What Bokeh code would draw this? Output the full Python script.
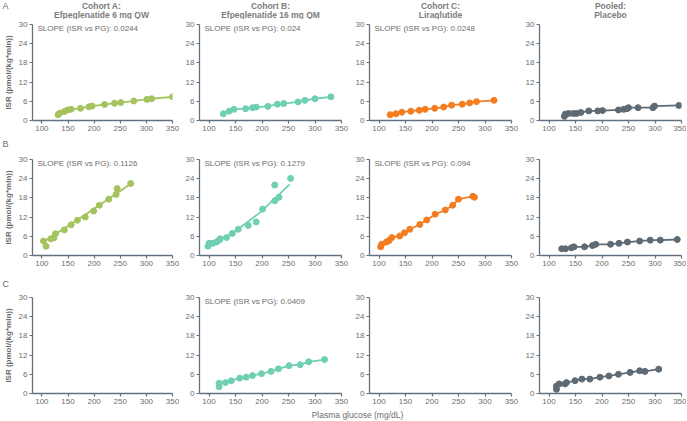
from bokeh.plotting import figure
from bokeh.models import Range1d, FixedTicker, Label
from bokeh.layouts import column, row
from bokeh.embed import file_html
from bokeh.resources import INLINE

FONT = "Liberation Sans"

# ---------------- data ----------------
col_titles_1 = ["Cohort A:", "Cohort B:", "Cohort C:", "Pooled:"]
col_titles_2 = ["Efpeglenatide 6 mg QW", "Efpeglenatide 16 mg QM", "Liraglutide", "Placebo"]
row_letters = ["A", "B", "C"]
x_ticks = [100, 150, 200, 250, 300, 350]
y_ticks = [0, 6, 12, 18, 24, 30]
colors = ["#a4c35f", "#6fcfb3", "#f47d21", "#5f6b74"]
y_label = "ISR (pmol/(kg*min))"
x_label = "Plasma glucose (mg/dL)"

# Row A
a1_x = [131, 134, 143, 149, 156, 174, 190, 196, 220, 239, 251, 276, 301, 310, 350]
a1_y = [1.8, 2.3, 2.8, 3.3, 3.5, 3.8, 4.3, 4.5, 5.0, 5.4, 5.6, 6.1, 6.6, 6.8, 7.4]
a2_x = [127, 138, 147, 169, 182, 189, 211, 229, 241, 268, 281, 300, 330]
a2_y = [2.1, 2.9, 3.5, 3.7, 4.0, 4.2, 4.4, 5.1, 5.3, 5.8, 6.3, 6.8, 7.4]
a3_x = [121, 132, 143, 160, 176, 187, 205, 222, 237, 257, 271, 284, 317]
a3_y = [1.8, 2.1, 2.6, 2.9, 3.2, 3.5, 3.8, 4.2, 4.8, 5.1, 5.5, 5.9, 6.3]
a4_x = [129, 131, 137, 146, 152, 160, 175, 192, 201, 231, 241, 247, 250, 268, 296, 299, 345]
a4_y = [1.3, 2.0, 2.2, 2.2, 2.2, 2.5, 3.0, 3.0, 3.1, 3.3, 3.5, 3.7, 4.0, 4.0, 4.0, 4.5, 4.7]

# Row B
b1_x = [103, 108, 117, 123, 126, 143, 156, 168, 183, 199, 210, 228, 242, 244, 270]
b1_y = [4.5, 2.9, 5.2, 5.5, 6.8, 8.0, 9.6, 11.0, 12.0, 13.9, 15.7, 17.6, 19.1, 20.9, 22.5]
b1_fit_x = [100, 150, 200, 245, 270]
b1_fit_y = [3.9, 9.2, 14.6, 19.6, 22.4]
b2_x = [98, 100, 107, 114, 119, 121, 133, 144, 155, 174, 189, 201, 224, 224, 232, 254]
b2_y = [2.9, 3.8, 3.8, 4.2, 4.8, 5.2, 5.6, 6.9, 8.2, 9.4, 10.5, 14.5, 17.1, 22.0, 18.2, 24.1]
b2_fit_x = [98, 144, 196, 224, 252]
b2_fit_y = [3.0, 6.9, 13.4, 17.8, 22.2]
b3_x = [103, 105, 114, 119, 124, 139, 148, 158, 177, 190, 206, 225, 239, 250, 277, 280]
b3_y = [2.7, 3.5, 4.2, 4.7, 5.6, 6.1, 7.1, 8.2, 9.7, 11.1, 12.9, 14.2, 15.7, 17.6, 18.5, 18.2]
b4_x = [124, 131, 142, 147, 167, 182, 188, 216, 232, 248, 271, 291, 310, 342]
b4_y = [2.1, 2.1, 2.4, 2.7, 2.7, 3.1, 3.5, 3.5, 3.8, 4.2, 4.5, 4.8, 4.8, 5.0]

# Row C
c2_x = [119, 119, 131, 142, 158, 170, 182, 199, 217, 231, 251, 272, 288, 318]
c2_y = [2.1, 3.2, 3.4, 4.0, 4.8, 5.1, 5.6, 6.2, 6.9, 7.7, 8.7, 9.0, 9.9, 10.6]
c4_x = [114, 114, 119, 130, 133, 149, 162, 177, 196, 213, 231, 253, 271, 281, 307]
c4_y = [1.3, 2.3, 3.0, 3.0, 3.4, 4.0, 4.5, 4.5, 5.1, 5.5, 6.0, 6.6, 7.1, 6.9, 7.6]

panels = {
    (0, 0): dict(x=a1_x, y=a1_y, fx=a1_x, fy=a1_y, slope="0.0244"),
    (0, 1): dict(x=a2_x, y=a2_y, fx=a2_x, fy=a2_y, slope="0.024"),
    (0, 2): dict(x=a3_x, y=a3_y, fx=a3_x, fy=a3_y, slope="0.0248"),
    (0, 3): dict(x=a4_x, y=a4_y, fx=a4_x, fy=a4_y, slope=None),
    (1, 0): dict(x=b1_x, y=b1_y, fx=b1_fit_x, fy=b1_fit_y, slope="0.1126"),
    (1, 1): dict(x=b2_x, y=b2_y, fx=b2_fit_x, fy=b2_fit_y, slope="0.1279"),
    (1, 2): dict(x=b3_x, y=b3_y, fx=b3_x, fy=b3_y, slope="0.094"),
    (1, 3): dict(x=b4_x, y=b4_y, fx=b4_x, fy=b4_y, slope=None),
    (2, 1): dict(x=c2_x, y=c2_y, fx=c2_x, fy=c2_y, slope="0.0409"),
    (2, 3): dict(x=c4_x, y=c4_y, fx=c4_x, fy=c4_y, slope=None),
}

# ---------------- layout ----------------
FRAME_W = 142
FRAME_H = 96
TITLE_H = 19
GAP_H = [18, 21]          # strips holding the letters B and C
XLAB_H = 12
ROW_TOP = 5
row_bottom = [16, 16, 15]
col_bl = [30, 20, 20, 20]
col_br = [7, 8, 8, 5]

AXIS_COL = "#63717f"
TICK_COL = "#6e6e6e"
TITLE_COL = "#7d7d7d"


def strip(w, h):
    f = figure(width=w, height=h, x_range=Range1d(0, w), y_range=Range1d(0, h),
               x_axis_type=None, y_axis_type=None, output_backend="svg",
               toolbar_location=None, min_border=0)
    f.outline_line_color = None
    f.background_fill_color = "white"
    f.border_fill_color = "white"
    return f


def letter(f, txt, from_top):
    f.add_layout(Label(x=2, y=f.height - from_top, x_units="screen", y_units="screen",
                       text=txt, text_font=FONT, text_font_size="9px", text_color=TICK_COL,
                       text_baseline="middle", text_align="left"))


col_w = [col_bl[c] + FRAME_W + col_br[c] for c in range(4)]
total_w = sum(col_w)

# title strip
ts = strip(total_w, TITLE_H)
letter(ts, row_letters[0], 5)
x0 = 0
for c in range(4):
    cx = x0 + col_bl[c] + FRAME_W / 2
    for txt, yy in ((col_titles_1[c], TITLE_H - 5), (col_titles_2[c], TITLE_H - 14)):
        ts.add_layout(Label(x=cx, y=yy, x_units="screen", y_units="screen", text=txt,
                            text_font=FONT, text_font_size="8.5px", text_font_style="bold",
                            text_color=TITLE_COL, text_baseline="middle", text_align="center"))
    x0 += col_w[c]

items = [ts]
for r in range(3):
    if r > 0:
        g = strip(total_w, GAP_H[r - 1])
        letter(g, row_letters[r], 7 if r == 1 else 12)
        items.append(g)
    h = ROW_TOP + FRAME_H + row_bottom[r]
    figs = []
    for c in range(4):
        p = figure(width=col_w[c], height=h,
                   x_range=Range1d(82, 350), y_range=Range1d(0, 30),
                   output_backend="svg", toolbar_location=None,
                   min_border_left=col_bl[c], min_border_right=col_br[c],
                   min_border_top=ROW_TOP, min_border_bottom=row_bottom[r])
        p.outline_line_color = None
        p.grid.visible = False
        p.background_fill_color = "white"
        p.border_fill_color = "white"
        p.xaxis.ticker = FixedTicker(ticks=x_ticks)
        p.yaxis.ticker = FixedTicker(ticks=y_ticks)
        for ax in (p.xaxis, p.yaxis):
            ax.axis_line_color = AXIS_COL
            ax.axis_line_width = 1.3
            ax.major_tick_line_color = AXIS_COL
            ax.major_tick_line_width = 1.2
            ax.major_tick_out = 3
            ax.major_tick_in = 0
            ax.minor_tick_line_color = None
            ax.major_label_text_font = FONT
            ax.major_label_text_font_size = "8px"
            ax.major_label_text_color = TICK_COL
            ax.major_label_standoff = 2
        if c == 0:
            p.yaxis.axis_label = y_label
            p.yaxis.axis_label_text_font = FONT
            p.yaxis.axis_label_text_font_size = "8px"
            p.yaxis.axis_label_text_font_style = "bold"
            p.yaxis.axis_label_text_color = "#6a6a6a"
            p.yaxis.axis_label_standoff = 3
        d = panels.get((r, c))
        if d is not None:
            col = colors[c]
            p.line(d["fx"], d["fy"], line_color=col, line_width=1.8)
            p.scatter(d["x"], d["y"], size=6, fill_color=col, line_color=col)
            if d["slope"]:
                p.add_layout(Label(x=5, y=FRAME_H - 4, x_units="screen", y_units="screen",
                                   text="SLOPE (ISR vs PG): " + d["slope"], text_font=FONT,
                                   text_font_size="8px", text_color=TICK_COL,
                                   text_baseline="middle", text_align="left"))
        figs.append(p)
    items.append(row(*figs))

xf = strip(total_w, XLAB_H)
xf.add_layout(Label(x=357, y=XLAB_H / 2, x_units="screen", y_units="screen", text=x_label,
                    text_font=FONT, text_font_size="8.5px", text_color=TICK_COL,
                    text_baseline="middle", text_align="center"))
items.append(xf)

layout = column(*items)
open("out.html", "w").write(file_html(layout, INLINE))
